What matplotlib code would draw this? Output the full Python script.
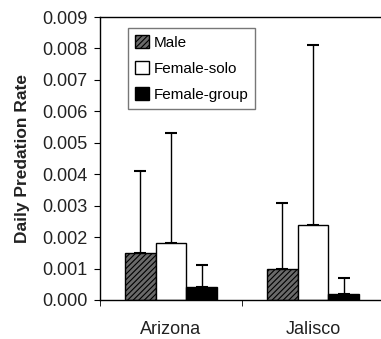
import numpy as np
import matplotlib.pyplot as plt

plt.rcParams['font.family'] = ['Liberation Sans', 'DejaVu Sans']
plt.rcParams['hatch.color'] = '#333333'
plt.rcParams['hatch.linewidth'] = 0.8

## Data
sites = ["Arizona", "Jalisco"]
groups = ["Male", "Female-solo", "Female-group"]
means = {
    "Male": [0.0015, 0.0010],
    "Female-solo": [0.0018, 0.0024],
    "Female-group": [0.0004, 0.0002],
}
upper_err = {
    "Male": [0.0026, 0.0021],
    "Female-solo": [0.0035, 0.0057],
    "Female-group": [0.0007, 0.0005],
}
yticks = [0.000, 0.001, 0.002, 0.003, 0.004, 0.005, 0.006, 0.007, 0.008, 0.009]

styles = {
    "Male": dict(facecolor='#6a6a6a', hatch='//////'),
    "Female-solo": dict(facecolor='white'),
    "Female-group": dict(facecolor='black'),
}

fig = plt.figure(figsize=(3.81, 3.39), dpi=100)
ax = fig.add_axes([100 / 381, 1 - 300 / 339, 284 / 381, 283 / 339])

x = np.arange(len(sites))
w = 0.218
for i, g in enumerate(groups):
    pos = x + (i - 1) * w
    ax.bar(pos, means[g], width=w, edgecolor='black', linewidth=1.0,
           label=g, **styles[g], zorder=2)
    ax.errorbar(pos, means[g], yerr=[np.zeros(len(sites)), upper_err[g]],
                fmt='none', ecolor='black', elinewidth=1.0, capsize=4,
                capthick=1.5, zorder=1)

ax.set_xlim(-0.5, 1.5)
ax.set_ylim(0, 0.009)
ax.set_yticks(yticks)
ax.set_yticklabels([f"{v:.3f}" for v in yticks], fontsize=13, color='#222222')
ax.set_xticks(x)
ax.set_xticklabels(sites, fontsize=13, color='#222222')
ax.tick_params(axis='x', length=0, pad=15)
ax.set_xticks([-0.5, 0.5], minor=True)
ax.tick_params(axis='x', which='minor', length=4, direction='out')
ax.tick_params(axis='y', length=4, direction='out', pad=5)
ax.spines['right'].set_visible(False)
for s in ['left', 'bottom', 'top']:
    ax.spines[s].set_linewidth(1.0)

ax.set_ylabel("Daily Predation Rate", fontsize=12.5, fontweight='bold', color='#222222')
ax.yaxis.set_label_coords(-0.245, 0.5)

leg = ax.legend(loc='upper left', bbox_to_anchor=(0.1, 0.96), fontsize=11,
                frameon=True, fancybox=False, edgecolor='#555555',
                handlelength=0.9, handleheight=0.9, handletextpad=0.3,
                borderpad=0.45, labelspacing=0.75, borderaxespad=0)
leg.get_frame().set_linewidth(1.0)

plt.savefig("out.png", dpi=100)
